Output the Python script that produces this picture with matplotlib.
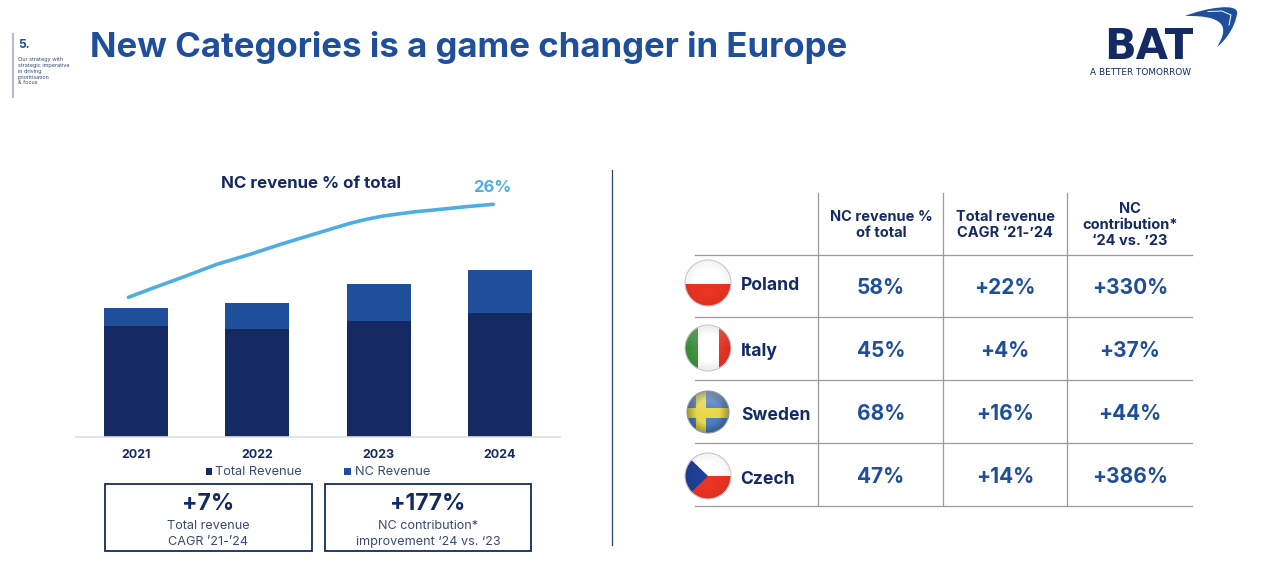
import matplotlib
matplotlib.use('Agg')
import matplotlib.pyplot as plt
from matplotlib.patches import Circle, Polygon, Rectangle, PathPatch
from matplotlib.path import Path
import numpy as np

# chart data
years = [2021, 2022, 2023, 2024]
total_revenue = [111, 108, 116, 124]
nc_revenue = [18, 26, 37, 43]
share_years = [2020.937, 2021.115, 2021.39, 2021.665, 2021.94, 2022.214, 2022.489, 2022.764,
               2022.90, 2023.04, 2023.176, 2023.31, 2023.45, 2023.59, 2023.725, 2023.945]
share_pct = [15.59, 16.5, 17.86, 19.27, 20.39, 21.6, 22.73, 23.85,
             24.3, 24.67, 24.92, 25.15, 25.33, 25.52, 25.71, 25.97]

countries = ['Poland', 'Italy', 'Sweden', 'Czech']
col_heads = ['NC revenue %\nof total', 'Total revenue\nCAGR \u201821-\u201924', 'NC\ncontribution*\n\u201824 vs. \u201923']
nc_share = ['58%', '45%', '68%', '47%']
total_cagr = ['+22%', '+4%', '+16%', '+14%']
nc_contrib = ['+330%', '+37%', '+44%', '+386%']

NAVY = '#152a62'
BLUE = '#1f4f9b'
LIGHT = '#4fade1'
GRID = '#9a9a9a'
SOFT = '#3a4a70'

plt.rcParams['font.family'] = ['Inter', 'DejaVu Sans']

fig = plt.figure(figsize=(12.8, 5.87), dpi=100)

# overlay in picture pixels for the slide furniture
bg = fig.add_axes([0, 0, 1, 1])
bg.set_xlim(0, 1280)
bg.set_ylim(587, 0)
bg.axis('off')

#-------------------------------------------------------------------------
# Header
#-------------------------------------------------------------------------

bg.plot([13, 13], [34, 97], color='#b4bccd', lw=1.5)
bg.text(18, 45, '5.', color=BLUE, fontsize=8.5, fontweight='bold', va='center')
bg.text(18, 71, 'Our strategy with\nstrategic imperative\nin driving\nprioritisation\n& focus', color=SOFT,
        fontsize=4, va='center', linespacing=1.25)
bg.text(90, 47, 'New Categories is a game changer in Europe', color=BLUE, fontsize=25.1,
        fontweight='bold', va='center')

# logo
bg.text(1149, 59, 'BAT', color=NAVY, fontsize=30, fontweight='bold', ha='center', va='baseline',
        family='DejaVu Sans')
bg.text(1090, 72.5, 'A BETTER TOMORROW', color=NAVY, fontsize=6.4, va='center', family='DejaVu Sans')
swoosh = Path([(1185, 16), (1205, 8), (1240, 2), (1237, 14), (1235, 27), (1226, 40), (1217, 47),
               (1226, 32), (1232, 15), (1185, 16)],
              [Path.MOVETO] + [Path.CURVE4] * 9)
bg.add_patch(PathPatch(swoosh, fc=BLUE, ec='none'))
bg.plot([1208, 1222, 1231, 1229], [11.5, 11, 15, 25], color='white', lw=0.7)

# divider
bg.plot([612, 612], [170, 545], color='#2b4478', lw=0.9)

#-------------------------------------------------------------------------
# Bars and line
#-------------------------------------------------------------------------

ax = fig.add_axes([76 / 1280, (587 - 437) / 587, 484 / 1280, 267 / 587])
ax.patch.set_alpha(0)
ax.bar(years, total_revenue, width=0.527, color=NAVY)
ax.bar(years, nc_revenue, width=0.527, bottom=total_revenue, color=BLUE)
ax.set_xlim(2020.505, 2024.495)
ax.set_ylim(0, 267)
ax.set_xticks(years)
ax.set_xticklabels(years, fontsize=9, fontweight='bold', color=NAVY)
ax.set_yticks([])
ax.tick_params(axis='x', length=0, pad=9)
for s in ['top', 'right', 'left']:
    ax.spines[s].set_visible(False)
ax.spines['bottom'].set_color('#dcdfe4')
ax.spines['bottom'].set_linewidth(1.2)

ax2 = ax.twinx()
ax2.plot(share_years, share_pct, color=LIGHT, lw=2.6, solid_capstyle='round', solid_joinstyle='round')
ax2.set_ylim(0, 29.8)
ax2.set_yticks([])
for s in ['top', 'right', 'left', 'bottom']:
    ax2.spines[s].set_visible(False)

bg.text(311, 184, 'NC revenue % of total', color=NAVY, fontsize=12.2, fontweight='bold', ha='center', va='center')
bg.text(492, 187, '26%', color=LIGHT, fontsize=12, fontweight='bold', ha='center', va='center')

# legend
bg.add_patch(Rectangle((205.5, 467.5), 6.5, 7, fc=NAVY, ec='none'))
bg.text(215, 472, 'Total Revenue', color=SOFT, fontsize=9.2, va='center')
bg.add_patch(Rectangle((344, 467.5), 6.5, 7, fc=BLUE, ec='none'))
bg.text(355, 472, 'NC Revenue', color=SOFT, fontsize=9.2, va='center')

# callout boxes
bg.add_patch(Rectangle((105, 484), 207, 67, fc='none', ec=NAVY, lw=1.3))
bg.add_patch(Rectangle((325, 484), 206, 67, fc='none', ec=NAVY, lw=1.3))
bg.text(208, 504, '+7%', color=NAVY, fontsize=16.5, fontweight='bold', ha='center', va='center')
bg.text(428, 504, '+177%', color=NAVY, fontsize=16.5, fontweight='bold', ha='center', va='center')
bg.text(208, 534, 'Total revenue\nCAGR \u201921-\u201924', color=SOFT, fontsize=9.1, ha='center', va='center', linespacing=1.5)
bg.text(428, 534, 'NC contribution*\nimprovement \u201824 vs. \u201823', color=SOFT, fontsize=9.1, ha='center', va='center', linespacing=1.5)

#-------------------------------------------------------------------------
# Table
#-------------------------------------------------------------------------

row_lines = [255, 317, 380, 443, 506]
col_lines = [818, 943, 1067]
col_centres = [881, 1005, 1130]
row_centres = [288, 351, 414, 477]
label_y = [286, 351, 415, 479]
label_x = [741, 741, 741, 740]

for y in row_lines:
    bg.plot([695, 1192], [y, y], color=GRID, lw=0.9)
for x in col_lines:
    bg.plot([x, x], [193, 506], color=GRID, lw=0.9)

for cx, head in zip(col_centres, col_heads):
    bg.text(cx, 225, head, color=NAVY, fontsize=10.5, fontweight='bold',
            ha='center', va='center', linespacing=1.2)

for i, yc in enumerate(row_centres):
    bg.text(label_x[i], label_y[i], countries[i], color=NAVY, fontsize=12.6, fontweight='bold', va='center')
    bg.text(col_centres[0], yc, nc_share[i], color=BLUE, fontsize=15, fontweight='bold', ha='center', va='center')
    bg.text(col_centres[1], yc, total_cagr[i], color=BLUE, fontsize=15, fontweight='bold', ha='center', va='center')
    bg.text(col_centres[2], yc, nc_contrib[i], color=BLUE, fontsize=15, fontweight='bold', ha='center', va='center')

#-------------------------------------------------------------------------
# Flags
#-------------------------------------------------------------------------

def flag(cx, cy, r, shapes, rim='#c9c9c9', edge=0.12, shine=0.25):
    disc = Circle((cx, cy), r, fc='white', ec='none', zorder=3)
    bg.add_patch(disc)
    for p in shapes:
        p.set_zorder(3)
        bg.add_patch(p)
        p.set_clip_path(disc)
    # glass look: dark rim and light top
    yy, xx = np.mgrid[-1:1:80j, -1:1:80j]
    rr = np.hypot(xx, yy)
    shade = np.zeros((80, 80, 4))
    top = np.clip(-yy, 0, 1) * shine
    dark = np.clip(rr - 0.55, 0, 1) / 0.45 * edge
    alpha = top + dark
    shade[..., :3] = (top / np.maximum(alpha, 1e-6))[..., None]
    shade[..., 3] = np.clip(alpha, 0, 1)
    im = bg.imshow(shade, extent=(cx - r, cx + r, cy + r, cy - r), aspect='auto', zorder=3.5, interpolation='bilinear')
    im.set_clip_path(disc)
    bg.add_patch(Circle((cx, cy), r, fc='none', ec=rim, lw=0.8, zorder=4))

RED = '#e93323'
flag(708, 283, 23, [Rectangle((680, 284), 56, 30, fc=RED, ec='none')], edge=0.05, shine=0)
flag(708, 348, 23, [Rectangle((680, 320), 18, 56, fc='#3f9440', ec='none'),
                    Rectangle((719, 320), 18, 56, fc=RED, ec='none')], edge=0.08, shine=0.2)
flag(708, 412, 21, [Rectangle((680, 385), 56, 56, fc='#4f7fc4', ec='none'),
                    Rectangle((696, 385), 10, 56, fc='#e8d94a', ec='none'),
                    Rectangle((680, 408), 56, 10, fc='#e8d94a', ec='none')], rim='#8b97aa', edge=0.3, shine=0.35)
flag(708, 476, 23, [Rectangle((680, 476), 56, 30, fc=RED, ec='none'),
                    Polygon([(680, 449), (708, 476), (680, 503)], fc='#1f3f94', ec='none')], edge=0.05, shine=0)

bg.set_xlim(0, 1280)
bg.set_ylim(587, 0)

plt.savefig('out.png', dpi=100)
